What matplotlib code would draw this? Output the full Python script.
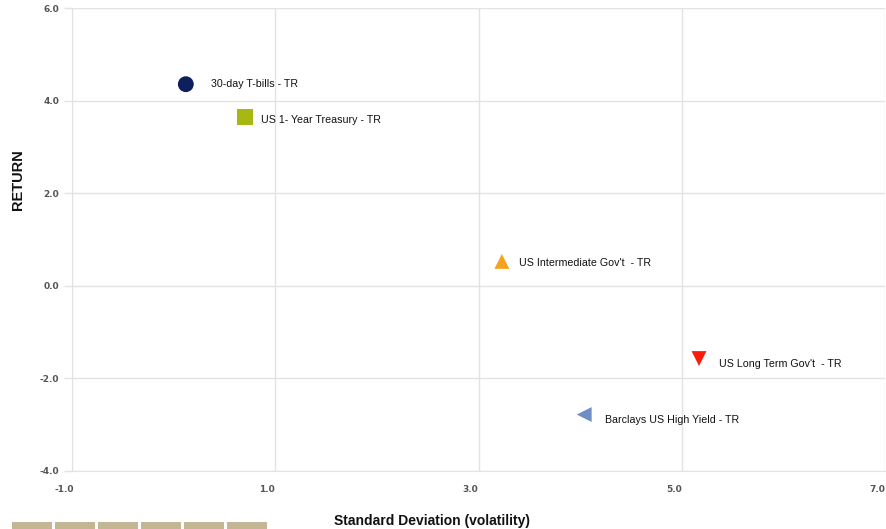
import matplotlib
matplotlib.use("Agg")
import matplotlib.pyplot as plt
import matplotlib.transforms as mtransforms
from matplotlib.patches import Rectangle

# Risk / return of fixed-income indices
names = [
    "30-day T-bills - TR",
    "US 1- Year Treasury - TR",
    "US Intermediate Gov't  - TR",
    "US Long Term Gov't  - TR",
    "Barclays US High Yield - TR",
]
std_dev = [0.12, 0.70, 3.23, 5.17, 4.04]
returns = [4.36, 3.65, 0.53, -1.57, -2.78]

x_ticks = [-1.0, 1.0, 3.0, 5.0, 7.0]
y_ticks = [-4.0, -2.0, 0.0, 2.0, 4.0, 6.0]

markers = ["o", "s", "^", "v", "<"]
colors = ["#0d1f5c", "#a8b812", "#f5a21e", "#ff1a0a", "#6f8fc4"]
sizes = [130, 125, 115, 115, 115]
label_offsets = [(25, 0), (16, -3), (17, -2), (20, -5), (21, -5)]

plt.rcParams["font.family"] = ["Liberation Sans", "DejaVu Sans"]

fig = plt.figure(figsize=(8.86, 5.29), dpi=100)
ax = fig.add_axes([72 / 886, 1 - 471 / 529, (885 - 72) / 886, (471 - 8.3) / 529])

ax.set_xlim(x_ticks[0], x_ticks[-1])
ax.set_ylim(y_ticks[0], y_ticks[-1])
ax.set_xticks(x_ticks)
ax.set_yticks(y_ticks)
ax.set_xticklabels([f"{v:.1f}" for v in x_ticks])
ax.set_yticklabels([f"{v:.1f}" for v in y_ticks])

grid_col = "#e3e3e3"
ax.grid(True, color=grid_col, linewidth=1.0, zorder=0)
ax.set_axisbelow(True)
for side in ["top", "right"]:
    ax.spines[side].set_visible(False)
ax.spines["left"].set_color(grid_col)
ax.spines["bottom"].set_color(grid_col)

ax.tick_params(axis="y", length=6, width=1, color=grid_col, pad=3,
               labelsize=6.5, labelcolor="#555555")
ax.tick_params(axis="x", length=0, pad=10, labelsize=6.5, labelcolor="#555555")
for lab in ax.get_yticklabels() + ax.get_xticklabels():
    lab.set_fontfamily("DejaVu Sans")
    lab.set_fontweight("bold")
shift = mtransforms.ScaledTranslation(-8 / 100, 0, fig.dpi_scale_trans)
for lab in ax.get_xticklabels():
    lab.set_transform(lab.get_transform() + shift)

for x, y, name, m, c, s, off in zip(std_dev, returns, names, markers, colors, sizes, label_offsets):
    ax.scatter([x], [y], marker=m, s=s, color=c, edgecolors="none", zorder=3)
    ax.annotate(name, (x, y), xytext=off, textcoords="offset pixels",
                ha="left", va="center", fontsize=7.7, color="#111111", zorder=4)

fig.text(18 / 886, 1 - 180 / 529, "RETURN", rotation=90, ha="center", va="center",
         fontsize=10.5, fontweight="bold", color="#111111")
fig.text(432 / 886, 1 - 521 / 529, "Standard Deviation (volatility)", ha="center",
         va="center", fontsize=10, fontweight="bold", color="#111111")

# row of small toolbar buttons at the lower left
for i in range(6):
    x0 = 12 + i * 43
    fig.patches.append(Rectangle((x0 / 886, 0), 40 / 886, 7 / 529,
                                 transform=fig.transFigure, facecolor="#b9ab80",
                                 edgecolor="none", alpha=0.85))

fig.savefig("out.png", dpi=100)
